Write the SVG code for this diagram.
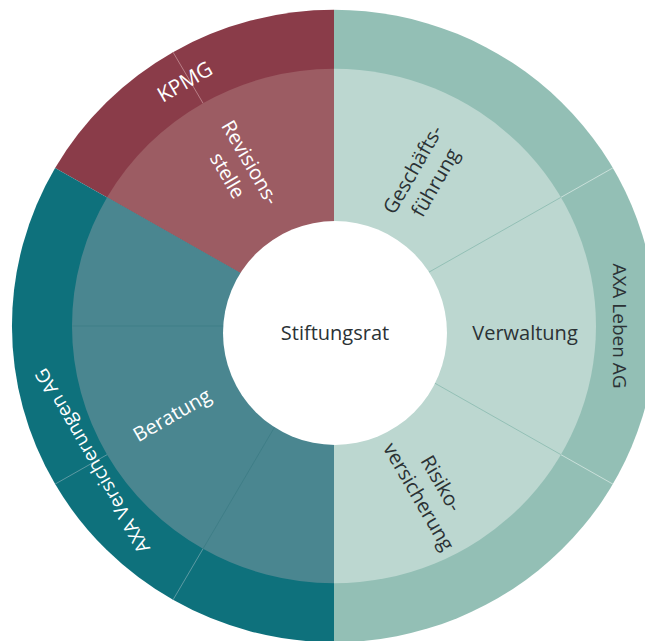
<svg xmlns="http://www.w3.org/2000/svg" width="645" height="641" viewBox="0 0 645 641">
<style>
.t{font-family:"Open Sans","Noto Sans",sans-serif;font-size:20px;text-anchor:middle}
.o{font-size:19px}
.w{fill:#ffffff}
.d{fill:#2b3235}
.sep{fill:none;stroke-width:1}
</style>
<rect width="645" height="641" fill="#ffffff"/>
<g transform="translate(334,326) scale(1,0.982)">
<g id="ring-outer">
<path id="outer-axa-leben" d="M0,0 L0,-322 A322,322 0 0 1 322,0 A322,322 0 0 1 0,322 Z" fill="#93bfb5"/>
<path id="outer-kpmg" d="M0,0 L-278.9,-161 A322,322 0 0 1 0,-322 Z" fill="#8a3c49"/>
<path id="outer-axa-vers" d="M0,0 L0,322 A322,322 0 0 1 -278.9,-161 Z" fill="#0e717c"/>
</g>
<g id="ring-middle">
<path id="mid-green" d="M0,0 L0,-262 A262,262 0 0 1 262,0 A262,262 0 0 1 0,262 Z" fill="#bcd7d0"/>
<path id="mid-red" d="M0,0 L-226.9,-131 A262,262 0 0 1 0,-262 Z" fill="#9c5c63"/>
<path id="mid-teal" d="M0,0 L0,262 A262,262 0 0 1 -226.9,-131 Z" fill="#4a8690"/>
</g>
<g id="connectors">
<line class="sep" x1="86.6" y1="-50" x2="226.9" y2="-131" stroke="#93bfb5"/>
<line class="sep" x1="86.6" y1="50" x2="226.9" y2="131" stroke="#93bfb5"/>
<line class="sep" x1="226.9" y1="-131" x2="278.9" y2="-161" stroke="#c9e0da" stroke-width="0.7"/>
<line class="sep" x1="226.9" y1="131" x2="278.9" y2="161" stroke="#c9e0da" stroke-width="0.7"/>
<line class="sep" x1="-131" y1="-226.9" x2="-161" y2="-278.9" stroke="#b98088" stroke-width="0.7"/>
<line class="sep" x1="-226.9" y1="131" x2="-278.9" y2="161" stroke="#5d9aa3" stroke-width="0.7"/>
<line class="sep" x1="-131" y1="226.9" x2="-161" y2="278.9" stroke="#5d9aa3" stroke-width="0.7"/>
<line class="sep" x1="-100" y1="0" x2="-262" y2="0" stroke="#3f7d87"/>
<line class="sep" x1="-50" y1="86.6" x2="-131" y2="226.9" stroke="#3f7d87"/>
</g>
</g>
<g id="node-stiftungsrat">
<circle cx="335" cy="333" r="112" fill="#ffffff"/>
<text class="t d" x="335" y="340">Stiftungsrat</text>
</g>
<g id="node-verwaltung">
<text class="t d" x="525" y="340">Verwaltung</text>
</g>
<g id="node-geschaeftsfuehrung">
<text class="t d" transform="translate(424,176) rotate(-60)"><tspan x="0" y="-6">Geschäfts-</tspan><tspan x="0" y="20">führung</tspan></text>
</g>
<g id="node-risikoversicherung">
<text class="t d" transform="translate(430,490) rotate(60)"><tspan x="0" y="-6">Risiko-</tspan><tspan x="0" y="20">versicherung</tspan></text>
</g>
<g id="node-revisionsstelle">
<text class="t w" transform="translate(239,169) rotate(60)"><tspan x="0" y="-6">Revisions-</tspan><tspan x="0" y="20">stelle</tspan></text>
</g>
<g id="node-beratung">
<text class="t w" transform="translate(172,415) rotate(-30)" y="7">Beratung</text>
</g>
<g id="node-kpmg">
<text class="t w" transform="translate(185,82) rotate(-30)" y="7" style="font-size:21px">KPMG</text>
</g>
<g id="node-axa-leben">
<text class="t o d" transform="translate(620,326) rotate(90)" y="7">AXA Leben AG</text>
</g>
<g id="node-axa-versicherungen">
<text class="t o w" transform="translate(92,461) rotate(240)" y="7">AXA Versicherungen AG</text>
</g>
</svg>
